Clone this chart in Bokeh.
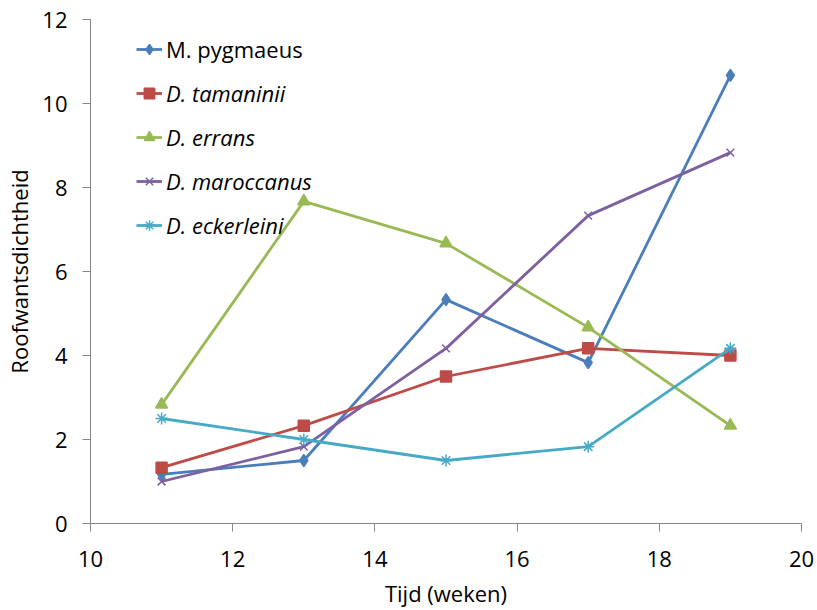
from bokeh.plotting import figure
from bokeh.models import Range1d, FixedTicker, Legend, LegendItem
from bokeh.embed import file_html
from bokeh.resources import INLINE

weeks = [11, 13, 15, 17, 19]
m_pygmaeus = [1.17, 1.5, 5.33, 3.83, 10.67]
d_tamaninii = [1.33, 2.33, 3.5, 4.17, 4.0]
d_errans = [2.83, 7.67, 6.67, 4.67, 2.33]
d_maroccanus = [1.0, 1.83, 4.17, 7.33, 8.83]
d_eckerleini = [2.5, 2.0, 1.5, 1.83, 4.17]

series_names = ["M. pygmaeus", "D. tamaninii", "D. errans", "D. maroccanus", "D. eckerleini"]
series_values = [m_pygmaeus, d_tamaninii, d_errans, d_maroccanus, d_eckerleini]
colors = ["#4A7EBB", "#BE4B48", "#98B954", "#7D60A0", "#46AAC5"]
markers = ["diamond", "square", "triangle", "x", "asterisk"]
msizes = [12, 11, 12, 11, 12]

x_ticks = [10, 12, 14, 16, 18, 20]
y_ticks = [0, 2, 4, 6, 8, 10, 12]

FONT = "Open Sans"

p = figure(frame_width=711, frame_height=504, output_backend="svg", toolbar_location=None,
           x_range=Range1d(10, 20), y_range=Range1d(0, 12),
           min_border_left=90, min_border_right=16, min_border_top=19, min_border_bottom=87)
p.outline_line_color = None
p.xgrid.visible = False
p.ygrid.visible = False

for ax in (p.xaxis[0], p.yaxis[0]):
    ax.axis_line_color = "#868686"
    ax.major_tick_line_color = "#868686"
    ax.minor_tick_line_color = None
    ax.major_tick_in = 0
    ax.major_tick_out = 8
    ax.major_label_text_font = FONT
    ax.major_label_text_font_size = "22px"
    ax.major_label_text_color = "black"
    ax.axis_label_text_font = FONT
    ax.axis_label_text_font_size = "22px"
    ax.axis_label_text_font_style = "normal"
    ax.axis_label_text_color = "black"

p.xaxis.ticker = FixedTicker(ticks=x_ticks)
p.yaxis.ticker = FixedTicker(ticks=y_ticks)
p.xaxis.axis_label = "Tijd (weken)"
p.yaxis.axis_label = "Roofwantsdichtheid"
p.xaxis.major_label_standoff = 19
p.yaxis.major_label_standoff = 15
p.xaxis.axis_label_standoff = 8
p.yaxis.axis_label_standoff = 5

items = []
for name, vals, c, m, s in zip(series_names, series_values, colors, markers, msizes):
    r1 = p.line(weeks, vals, line_color=c, line_width=2.8)
    r2 = p.scatter(weeks, vals, marker=m, size=s, fill_color=c, line_color=c, line_width=1.5)
    items.append(LegendItem(label=name, renderers=[r1, r2]))

def make_legend(its, style, loc):
    lg = Legend(items=its, location=loc, orientation="vertical")
    lg.label_text_font = FONT
    lg.label_text_font_size = "22px"
    lg.label_text_font_style = style
    lg.label_text_color = "black"
    lg.label_height = 44
    lg.glyph_height = 44
    lg.glyph_width = 26
    lg.label_standoff = 4
    lg.spacing = 0
    lg.padding = 0
    lg.margin = 0
    lg.border_line_color = None
    lg.background_fill_alpha = 0
    return lg

p.add_layout(make_legend(items[:1], "normal", (46, 452)))
p.add_layout(make_legend(items[1:], "italic", (46, 276)))

open("out.html", "w").write(file_html(p, INLINE))
